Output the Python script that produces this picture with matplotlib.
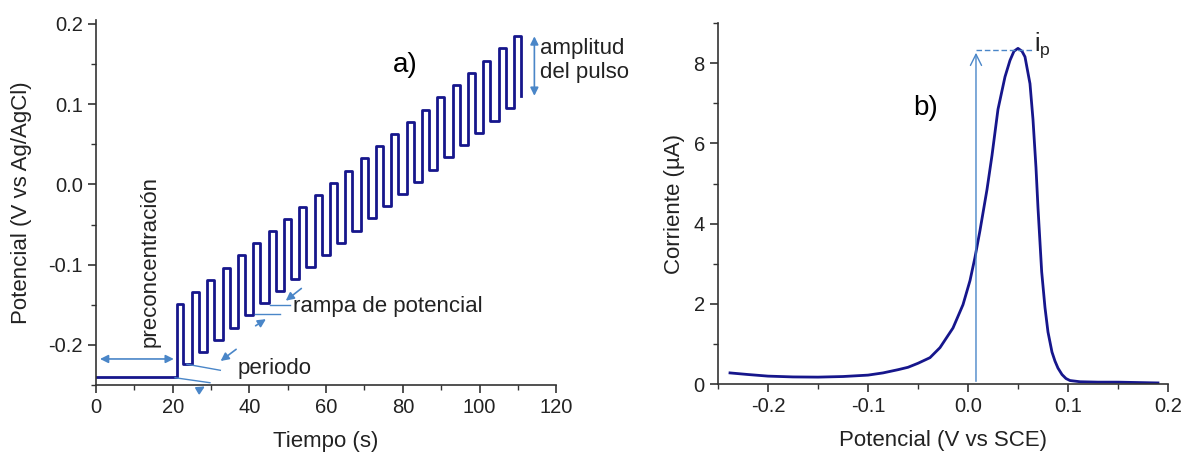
import matplotlib.pyplot as plt
from matplotlib.ticker import MultipleLocator, FormatStrFormatter

plt.rcParams['font.family'] = ['Liberation Sans', 'DejaVu Sans']

# --- panel a) square wave potential program ---
precon_level = -0.24
pulse_start = [21, 25, 29, 33, 37, 41, 45, 49, 53, 57, 61, 65,
               69, 73, 77, 81, 85, 89, 93, 97, 101, 105, 109]
pulse_top = [-0.149, -0.134, -0.119, -0.104, -0.088, -0.073, -0.058, -0.043,
             -0.028, -0.013, 0.002, 0.017, 0.033, 0.048, 0.063, 0.078,
             0.093, 0.109, 0.124, 0.139, 0.154, 0.170, 0.185]
pulse_bottom = [-0.224, -0.209, -0.194, -0.179, -0.163, -0.148, -0.133, -0.118,
                -0.103, -0.088, -0.073, -0.058, -0.042, -0.027, -0.012, 0.003,
                0.018, 0.034, 0.049, 0.064, 0.079, 0.095, 0.110]
pulse_width = 1.8

# --- panel b) voltammogram ---
potencial = [-0.238, -0.22, -0.2, -0.175, -0.15, -0.125, -0.1, -0.085, -0.07,
             -0.06, -0.05, -0.038, -0.028, -0.015, -0.005, 0.002, 0.007, 0.012,
             0.019, 0.024, 0.030, 0.037, 0.042, 0.046, 0.050, 0.054, 0.057,
             0.062, 0.065, 0.068, 0.070, 0.0737, 0.077, 0.080, 0.084, 0.087,
             0.090, 0.094, 0.098, 0.102, 0.112, 0.13, 0.15, 0.17, 0.19]
corriente = [0.28, 0.24, 0.2, 0.18, 0.175, 0.19, 0.225, 0.28, 0.36,
             0.42, 0.52, 0.66, 0.91, 1.4, 1.98, 2.58, 3.16, 3.83,
             4.85, 5.7, 6.85, 7.66, 8.07, 8.3, 8.37, 8.3, 8.16,
             7.49, 6.6, 5.4, 4.4, 2.8, 1.91, 1.3, 0.8, 0.575,
             0.4, 0.24, 0.14, 0.09, 0.06, 0.05, 0.05, 0.04, 0.03]
ip_pot = 0.008
ip_val = 8.33

LINE = '#16168c'
ANNOT = '#4a86c8'
TXT = '#222222'
FS = 16

fig = plt.figure(figsize=(11.86, 4.53), dpi=100)
ax1 = fig.add_axes([0.081, 0.150, 0.388, 0.806])
ax2 = fig.add_axes([0.6054, 0.152, 0.3794, 0.797])

# build square wave path from the read values
t = [0, pulse_start[0]]
e = [precon_level, precon_level]
for start, top, bot in zip(pulse_start, pulse_top, pulse_bottom):
    if len(t) > 2:
        t.append(start)
        e.append(e[-1])
    t += [start, start + pulse_width, start + pulse_width]
    e += [top, top, bot]
ax1.plot(t, e, color=LINE, lw=2, solid_joinstyle='round')

ax1.set_xlim(0, 120)
ax1.set_ylim(-0.25, 0.205)
ax1.xaxis.set_major_locator(MultipleLocator(20))
ax1.xaxis.set_minor_locator(MultipleLocator(10))
ax1.yaxis.set_major_locator(MultipleLocator(0.1))
ax1.yaxis.set_minor_locator(MultipleLocator(0.05))
ax1.yaxis.set_major_formatter(FormatStrFormatter('%.1f'))
ax1.set_xlabel('Tiempo (s)', fontsize=FS, color=TXT, labelpad=10)
ax1.set_ylabel('Potencial (V vs Ag/AgCl)', fontsize=FS, color=TXT, labelpad=12)

arw = dict(arrowstyle='-|>', color=ANNOT, lw=1.2, mutation_scale=12)
darw = dict(arrowstyle='<|-|>', color=ANNOT, lw=1.2, mutation_scale=12)

ax1.annotate('', xy=(21, -0.2175), xytext=(0.3, -0.2175), arrowprops=darw)
ax1.text(14.1, -0.096, 'preconcentración', rotation=90, ha='center', va='center',
         fontsize=FS, color=TXT)

# periodo
ax1.plot([20.6, 29.7], [-0.2409, -0.2471], color=ANNOT, lw=1, clip_on=False)
ax1.plot([23.7, 32.4], [-0.2241, -0.2316], color=ANNOT, lw=1)
ax1.annotate('', xy=(31.9, -0.2221), xytext=(37.1, -0.2034), arrowprops=arw)
ax1.annotate('', xy=(29.0, -0.2500), xytext=(26.3, -0.2575), arrowprops=arw,
             annotation_clip=False)
ax1.text(36.8, -0.229, 'periodo', ha='left', va='center', fontsize=FS, color=TXT)

# rampa de potencial
ax1.plot([45.4, 50.6], [-0.150, -0.150], color=ANNOT, lw=1)
ax1.plot([41.5, 48.0], [-0.1616, -0.1616], color=ANNOT, lw=1)
ax1.annotate('', xy=(48.9, -0.147), xytext=(54.1, -0.1275), arrowprops=arw)
ax1.annotate('', xy=(44.9, -0.166), xytext=(41.0, -0.178), arrowprops=arw)
ax1.text(51.4, -0.1515, 'rampa de potencial', ha='left', va='center',
         fontsize=FS, color=TXT)

# amplitud del pulso
ax1.annotate('', xy=(114.3, 0.188), xytext=(114.3, 0.107), arrowprops=darw)
ax1.text(115.8, 0.154, 'amplitud\ndel pulso', ha='left', va='center',
         fontsize=FS, color=TXT, linespacing=1.2)
ax1.text(80.6, 0.149, 'a)', ha='center', va='center', fontsize=20, color='black')

# panel b
ax2.plot(potencial, corriente, color=LINE, lw=2)
ax2.set_xlim(-0.25, 0.2)
ax2.set_ylim(0, 9)
ax2.xaxis.set_major_locator(MultipleLocator(0.1))
ax2.xaxis.set_minor_locator(MultipleLocator(0.05))
ax2.xaxis.set_major_formatter(FormatStrFormatter('%.1f'))
ax2.yaxis.set_major_locator(MultipleLocator(2))
ax2.yaxis.set_minor_locator(MultipleLocator(1))
ax2.set_xlabel('Potencial (V vs SCE)', fontsize=FS, color=TXT, labelpad=10)
ax2.set_ylabel('Corriente (µA)', fontsize=FS, color=TXT, labelpad=6)

ax2.annotate('', xy=(ip_pot, ip_val), xytext=(ip_pot, 0),
             arrowprops=dict(arrowstyle='->', color=ANNOT, lw=1, mutation_scale=20))
ax2.plot([ip_pot, 0.065], [ip_val, ip_val], color=ANNOT, lw=1, ls='--', dashes=(4, 2))
ax2.text(0.066, 8.45, 'i$_\\mathregular{p}$', ha='left', va='center',
         fontsize=18, color=TXT)
ax2.text(-0.042, 6.875, 'b)', ha='center', va='center', fontsize=20, color='black')

for ax in (ax1, ax2):
    for side in ('top', 'right'):
        ax.spines[side].set_visible(False)
    for side in ('left', 'bottom'):
        ax.spines[side].set_color('#333333')
        ax.spines[side].set_linewidth(1.2)
    ax.tick_params(which='major', length=6, width=1.2, labelsize=14.5,
                   colors='#333333', labelcolor=TXT)
    ax.tick_params(which='minor', length=3.5, width=1.0, colors='#333333')

fig.savefig('out.png', dpi=100)
